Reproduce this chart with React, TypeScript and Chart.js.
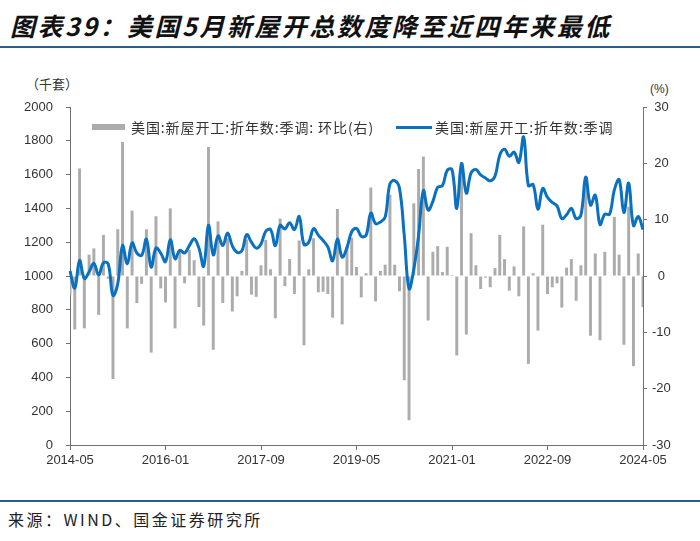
import React, { useEffect, useRef } from 'react';
import { Chart, registerables } from 'chart.js';

Chart.register(...registerables);

// ---- categories (monthly, 2014-05 .. 2024-05) ----
const months: string[] = [];
for (let y = 2014; y <= 2024; y++) {
  for (let m = 1; m <= 12; m++) {
    if ((y === 2014 && m < 5) || (y === 2024 && m > 5)) continue;
    months.push(`${y}-${m < 10 ? '0' + m : m}`);
  }
}

const xTickLabels = ['2014-05', '2016-01', '2017-09', '2019-05', '2021-01', '2022-09', '2024-05'];

// 美国:新屋开工:折年数:季调 (千套)
const housingStarts = [
  1030, 928, 1092, 985, 1025, 1075, 1005, 1078, 1072, 885,
  955, 1180, 1072, 1196, 1136, 1122, 1218, 1052, 1165, 1136,
  1085, 1215, 1102, 1152, 1136, 1180, 1220, 1165, 1058, 1300,
  1125, 1238, 1180, 1255, 1178, 1140, 1150, 1245, 1200, 1165,
  1190, 1265, 1275, 1180, 1300, 1278, 1315, 1275, 1352, 1186,
  1200, 1280, 1242, 1210, 1172, 1090, 1218, 1112, 1168, 1262,
  1282, 1235, 1240, 1372, 1310, 1320, 1348, 1545, 1565, 1520,
  1240, 925, 1040, 1240, 1505, 1390, 1442, 1525, 1535, 1625,
  1630, 1400, 1665, 1490, 1610, 1630, 1598, 1580, 1563, 1590,
  1715, 1750, 1708, 1733, 1672, 1822, 1535, 1540, 1395, 1518,
  1465, 1435, 1415, 1340, 1362, 1400, 1340, 1360, 1585, 1420,
  1478, 1305, 1365, 1365, 1510, 1570, 1375, 1550, 1298, 1352,
  1275,
];

// 环比 (%), right axis
const momChange = [
  -3.4, -9.5, 19.1, -9.3, 3.8, 4.9, -6.9, 7.3, -0.5, -18.3,
  8.3, 23.8, -9.3, 11.6, -4.8, -1.4, 8.3, -13.6, 10.6, -2.2,
  -4.7, 12.0, -9.3, 4.3, -1.3, 4.6, 2.8, -5.5, -8.8, 22.9,
  -13.1, 9.7, -4.8, 6.7, -6.3, -3.6, 0.9, 6.5, -3.3, -3.7,
  1.9, 6.4, 1.2, -7.5, 10.2, -1.8, 3.0, -3.2, 6.3, -12.3,
  1.2, 6.7, -2.9, -2.8, -3.2, -7.4, 11.9, -8.6, 5.2, 6.8,
  1.6, -3.8, 0.5, 15.7, -4.5, 0.9, 2.0, 14.4, 2.0, -2.7,
  -18.5, -25.6, 12.9, 19.0, 21.2, -7.9, 4.3, 5.3, 0.7, 5.2,
  0.2, -14.1, 20.2, -10.4, 7.6, 1.9, -2.3, -0.3, -2.0, 1.4,
  7.3, 3.0, -2.6, 1.7, -3.6, 8.8, -15.6, 0.5, -9.7, 9.1,
  -3.2, -2.0, -1.3, -5.6, 1.5, 3.0, -4.4, 1.9, 17.3, -10.6,
  4.0, -11.4, 4.3, 0.1, 10.5, 3.8, -12.2, 12.3, -16.0, 4.0,
  -5.5,
];

const leftAxis = { min: 0, max: 2000, step: 200 };
const rightAxis = { min: -30, max: 30, step: 10 };

const barLabel = '美国:新屋开工:折年数:季调: 环比(右)';
const lineLabel = '美国:新屋开工:折年数:季调';
const titleText = '图表39：美国5月新屋开总数度降至近四年来最低';
const sourceText = '来源：WIND、国金证券研究所';

const AXIS = '#707070';
const TICK_FONT = { family: '"Liberation Sans", Arial, sans-serif', size: 13 };
const CJK = '"Noto Sans CJK SC", "Noto Sans", sans-serif';

export default function App() {
  const ref = useRef<HTMLCanvasElement | null>(null);

  useEffect(() => {
    const prevMargin = document.body.style.margin;
    document.body.style.margin = '0';
    if (!ref.current) return;
    const chart = new Chart(ref.current, {
      type: 'bar',
      data: {
        labels: months,
        datasets: [
          {
            type: 'line',
            label: lineLabel,
            data: housingStarts,
            yAxisID: 'y',
            borderColor: '#0a70c0',
            borderWidth: 3,
            pointRadius: 0,
            tension: 0.4,
            order: 0,
          } as any,
          {
            type: 'bar',
            label: barLabel,
            data: momChange,
            yAxisID: 'y2',
            backgroundColor: '#acacac',
            barPercentage: 0.62,
            categoryPercentage: 1,
            order: 1,
          },
        ],
      },
      options: {
        animation: false,
        responsive: false,
        layout: { padding: { top: 47, left: 0, right: 0, bottom: 0 } },
        plugins: { legend: { display: false }, tooltip: { enabled: false } },
        scales: {
          x: {
            type: 'category',
            offset: false,
            grid: { display: true, drawOnChartArea: false, drawTicks: true, tickLength: 5, color: AXIS, offset: false },
            border: { display: true, color: AXIS, width: 1 },
            ticks: {
              autoSkip: false,
              maxRotation: 0,
              minRotation: 0,
              padding: 3,
              color: '#333',
              font: TICK_FONT,
              callback: (_v: any, i: number) => (xTickLabels.includes(months[i]) ? months[i] : null),
            },
            afterFit: (s: any) => { s.height = 35; },
          },
          y: {
            position: 'left',
            min: leftAxis.min,
            max: leftAxis.max,
            grid: { display: true, drawOnChartArea: false, drawTicks: true, tickLength: 4, color: AXIS },
            border: { display: true, color: AXIS, width: 1 },
            ticks: {
              stepSize: leftAxis.step, padding: 13, color: '#333', font: TICK_FONT,
              callback: (v: any) => String(v),
            },
            afterFit: (s: any) => { s.width = 70; },
          },
          y2: {
            position: 'right',
            min: rightAxis.min,
            max: rightAxis.max,
            grid: { display: true, drawOnChartArea: false, drawTicks: true, tickLength: 4, color: AXIS },
            border: { display: true, color: AXIS, width: 1 },
            ticks: {
              stepSize: rightAxis.step, padding: 5, color: '#333', font: TICK_FONT, crossAlign: 'center',
              callback: (v: any) => String(v),
            },
            afterFit: (s: any) => { s.width = 57; },
          },
        },
      },
    });
    return () => {
      chart.destroy();
      document.body.style.margin = prevMargin;
    };
  }, []);

  return (
    <div style={{ position: 'fixed', left: 0, top: 0, width: 700, height: 541, background: '#fff', overflow: 'hidden' }}>
      <div
        style={{
          position: 'absolute', left: 10, top: 8, fontFamily: CJK, fontSize: 25, fontWeight: 700,
          fontStyle: 'italic', color: '#111', whiteSpace: 'nowrap', lineHeight: '34px', letterSpacing: 2.5,
        }}
      >
        {titleText}
      </div>
      <div style={{ position: 'absolute', left: 0, top: 46, width: 700, height: 2, background: '#2a5d8a' }} />

      <div style={{ position: 'absolute', left: 26, top: 75, fontFamily: CJK, fontSize: 13, color: '#333', whiteSpace: 'nowrap', lineHeight: '18px' }}>（千套）</div>
      <div style={{ position: 'absolute', left: 650, top: 80, fontFamily: TICK_FONT.family, fontSize: 12, color: '#333', whiteSpace: 'nowrap', lineHeight: '18px' }}>(%)</div>

      <div style={{ position: 'absolute', left: 0, top: 60 }}>
        <canvas ref={ref} width={700} height={420} />
      </div>

      {/* legend */}
      <div style={{ position: 'absolute', left: 92, top: 124, width: 33, height: 6, background: '#acacac' }} />
      <div style={{ position: 'absolute', left: 131, top: 117, fontFamily: CJK, fontSize: 14, color: '#333', whiteSpace: 'nowrap', lineHeight: '20px', letterSpacing: 0.9 }}>{barLabel}</div>
      <div style={{ position: 'absolute', left: 396, top: 126, width: 36, height: 3, background: '#0a70c0' }} />
      <div style={{ position: 'absolute', left: 435, top: 117, fontFamily: CJK, fontSize: 14, color: '#333', whiteSpace: 'nowrap', lineHeight: '20px', letterSpacing: 0.9 }}>{lineLabel}</div>

      <div style={{ position: 'absolute', left: 0, top: 500, width: 700, height: 2, background: '#2a5d8a' }} />
      <div style={{ position: 'absolute', left: 8, top: 508, fontFamily: CJK, fontSize: 16, color: '#222', whiteSpace: 'nowrap', lineHeight: '22px', letterSpacing: 2.5 }}>{sourceText}</div>
    </div>
  );
}
